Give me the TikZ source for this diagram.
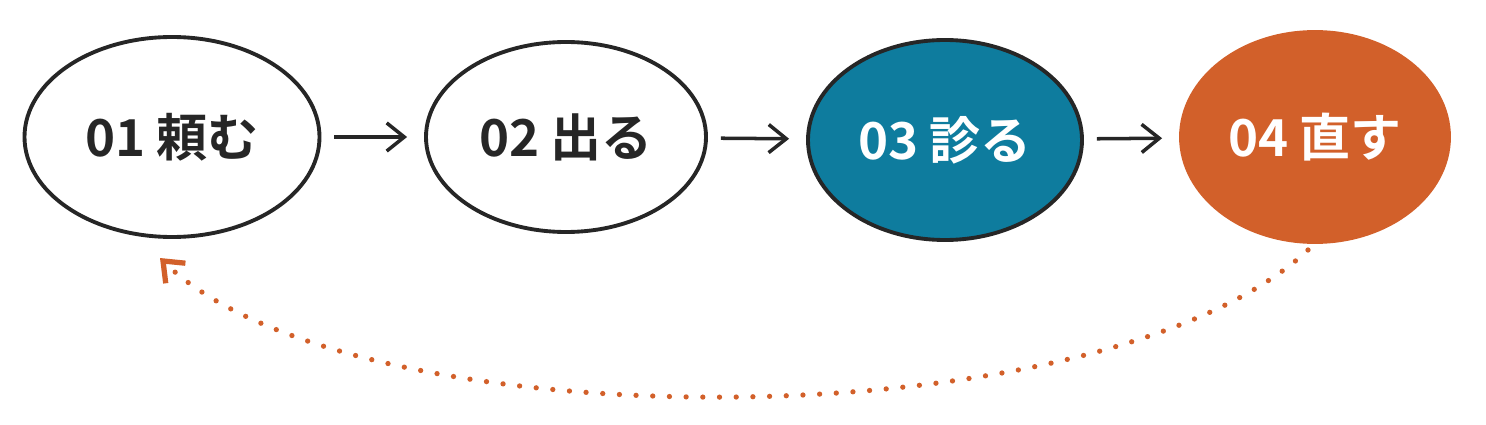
\documentclass[tikz,border=0pt]{standalone}
\usepackage{fontspec}
\newfontfamily\cjk{Noto Sans CJK JP}[BoldFont={Noto Sans CJK JP Bold}]
\usetikzlibrary{shapes.geometric,arrows.meta}
\definecolor{stepblue}{HTML}{0E7C9E}
\definecolor{steporange}{HTML}{D2602A}
\begin{document}
\begin{tikzpicture}
  \tikzset{
    phase/.style = {draw=black!85, line width=2.2pt, ellipse, font=\cjk\bfseries\fontsize{29}{34}\selectfont, text=black!85},
    flow/.style = {-{Straight Barb[length=10pt,width=16pt]}, line width=2pt, black!85, shorten <=0.26cm, shorten >=0.34cm},
    back/.style = {-{Straight Barb[length=10pt,width=16pt]}, line width=3pt, steporange, line cap=round, dash pattern=on 0pt off 9.5pt}
  }
  \useasboundingbox (0,0) rectangle (29.72,8.48);
  \node [phase, minimum width=5.9cm, minimum height=4.0cm] (s1) at (3.44,5.74) {01 頼む};
  \node [phase, minimum width=5.6cm, minimum height=3.8cm] (s2) at (11.32,5.74) {02 出る};
  \node [phase, fill=stepblue, text=white, minimum width=5.48cm, minimum height=4.0cm] (s3) at (18.9,5.68) {03 診る};
  \node [phase, draw=steporange, fill=steporange, text=white, minimum width=5.36cm, minimum height=4.2cm] (s4) at (26.3,5.74) {04 直す};

  \draw [flow] (s1) -- (s2);
  \draw [flow] (s2) -- (s3);
  \draw [flow] (s3) -- (s4);

  \coordinate (from) at (26.16,3.48);
  \coordinate (to) at (3.2,3.32);
  \draw [back] (from) .. controls (22,-0.4) and (7,-0.4) .. (to);
\end{tikzpicture}
\end{document}
